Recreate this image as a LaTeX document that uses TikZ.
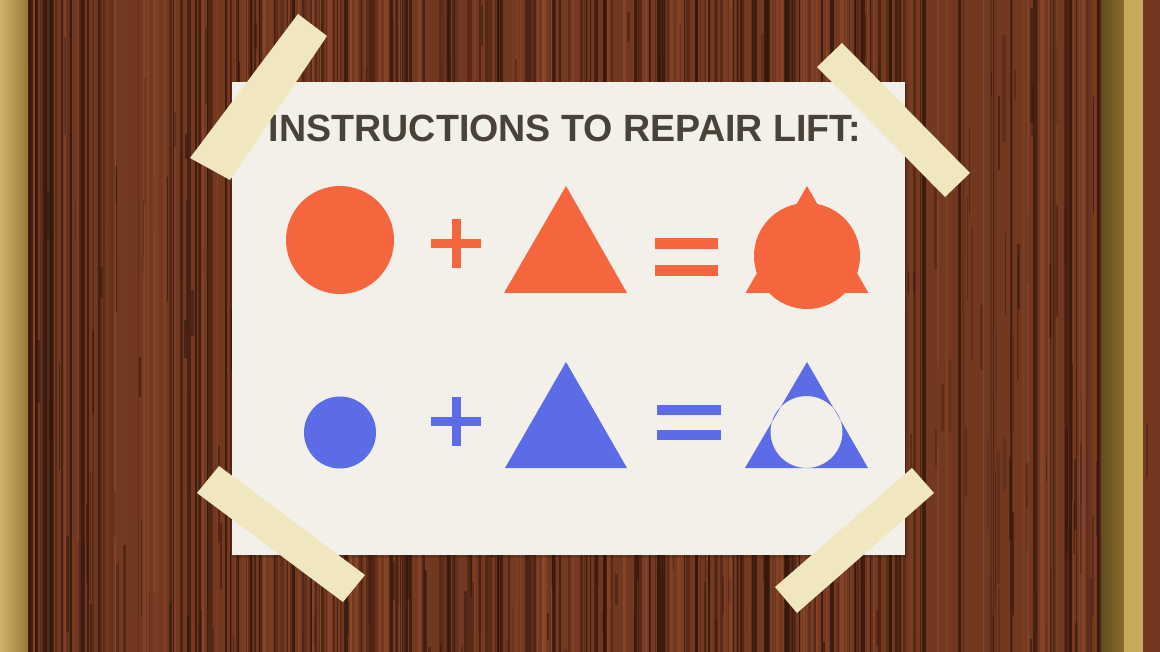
\documentclass[tikz,border=0pt]{standalone}
\usepackage{fontspec}
\setmainfont{Liberation Sans}
\usepackage{graphicx}
\definecolor{wood}{HTML}{723820}
\definecolor{wooddark}{HTML}{33160C}
\definecolor{woodlight}{HTML}{9A5234}
\definecolor{goldlight}{HTML}{C9A95A}
\definecolor{golddark}{HTML}{8C6C2C}
\definecolor{paper}{HTML}{F3F0EA}
\definecolor{ink}{HTML}{4A4238}
\definecolor{shred}{HTML}{F6663E}
\definecolor{shblue}{HTML}{5B6CE6}
\definecolor{tape}{HTML}{F0E6C0}
\tikzset{
  tapestrip/.style={fill=tape},
  crease/.style={draw=white, opacity=0.25, line width=0.6pt},
  redshape/.style={fill=shred},
  blueshape/.style={fill=shblue},
}
\begin{document}
\begin{tikzpicture}[x=1pt,y=-1pt]
\useasboundingbox (0,0) rectangle (1160,652);
% wood background
\fill[wood] (0,0) rectangle (1160,652);
\pgfmathsetseed{11}
\foreach \i in {1,...,260}{
  \pgfmathsetmacro{\xx}{28+1120*rnd}
  \pgfmathsetmacro{\ww}{0.8+3.5*rnd}
  \pgfmathsetmacro{\op}{0.25+0.6*rnd}
  \fill[wooddark,opacity=\op] (\xx,0) rectangle ++(\ww,652);
}
\foreach \i in {1,...,320}{
  \pgfmathsetmacro{\xx}{28+1120*rnd}
  \pgfmathsetmacro{\yy}{652*rnd}
  \pgfmathsetmacro{\hh}{20+120*rnd}
  \pgfmathsetmacro{\ww}{0.8+2.5*rnd}
  \pgfmathsetmacro{\op}{0.2+0.5*rnd}
  \fill[wooddark,opacity=\op] (\xx,\yy) rectangle ++(\ww,\hh);
}
\foreach \i in {1,...,140}{
  \pgfmathsetmacro{\xx}{28+1120*rnd}
  \pgfmathsetmacro{\ww}{1+3*rnd}
  \pgfmathsetmacro{\op}{0.15+0.35*rnd}
  \fill[woodlight,opacity=\op] (\xx,0) rectangle ++(\ww,652);
}
% gold frame left
\shade[left color=goldlight!90!white, right color=golddark!80!goldlight] (0,0) rectangle (28,652);
\fill[wooddark,opacity=0.7] (28,0) rectangle (33,652);
% gold frame right
\shade[left color=golddark!70!black, right color=golddark] (1101,0) rectangle (1124,652);
\fill[goldlight] (1124,0) rectangle (1143,652);
\fill[wooddark,opacity=0.5] (1098,0) rectangle (1101,652);
% paper
\fill[black,opacity=0.12] (234,84) rectangle (908,558);
\fill[paper] (232,82) rectangle (905,555);
% title
\node[font=\bfseries\fontsize{38}{38}\selectfont, text=ink, inner sep=0pt] (title) at (565,128)
  {\scalebox{0.99}[1]{INSTRUCTIONS TO REPAIR LIFT:}};
% red row
\fill[redshape] (340,240) circle (54);
\fill[redshape] (431,239) rectangle (481,248);
\fill[redshape] (452,219) rectangle (461,268);
\fill[redshape] (566,186) -- (627,293) -- (504,293) -- cycle;
\fill[redshape] (655,238) rectangle (718,249);
\fill[redshape] (655,265) rectangle (718,276);
\fill[redshape] (807,256) circle (53);
\fill[redshape] (807,186) -- (868.5,293) -- (745.5,293) -- cycle;
% blue row
\fill[blueshape] (340,432.5) circle (36);
\fill[blueshape] (431,417) rectangle (481,426);
\fill[blueshape] (452,397) rectangle (461,446);
\fill[blueshape] (566,362) -- (627,468) -- (505,468) -- cycle;
\fill[blueshape] (657,405) rectangle (721,415);
\fill[blueshape] (657,430) rectangle (721,440);
\fill[blueshape, even odd rule] (807,362) -- (868,468) -- (745,468) -- cycle (806.5,432) circle (36);
% tapes
\fill[tapestrip] (298,14) -- (327,36) -- (230,180) -- (190,158) -- cycle;
\draw[crease] (272,70) -- (280,95) -- (268,108);
\fill[tapestrip] (842,43) -- (817,67) -- (945,197) -- (970,173) -- cycle;
\draw[crease] (888,128) -- (900,136) -- (915,133);
\fill[tapestrip] (219,466) -- (197,493) -- (343,602) -- (365,575) -- cycle;
\draw[crease] (275,545) -- (290,550) -- (305,548);
\fill[tapestrip] (912,468) -- (934,493) -- (797,613) -- (775,587) -- cycle;
\draw[crease] (868,510) -- (873,530) -- (865,545);
\end{tikzpicture}
\end{document}
